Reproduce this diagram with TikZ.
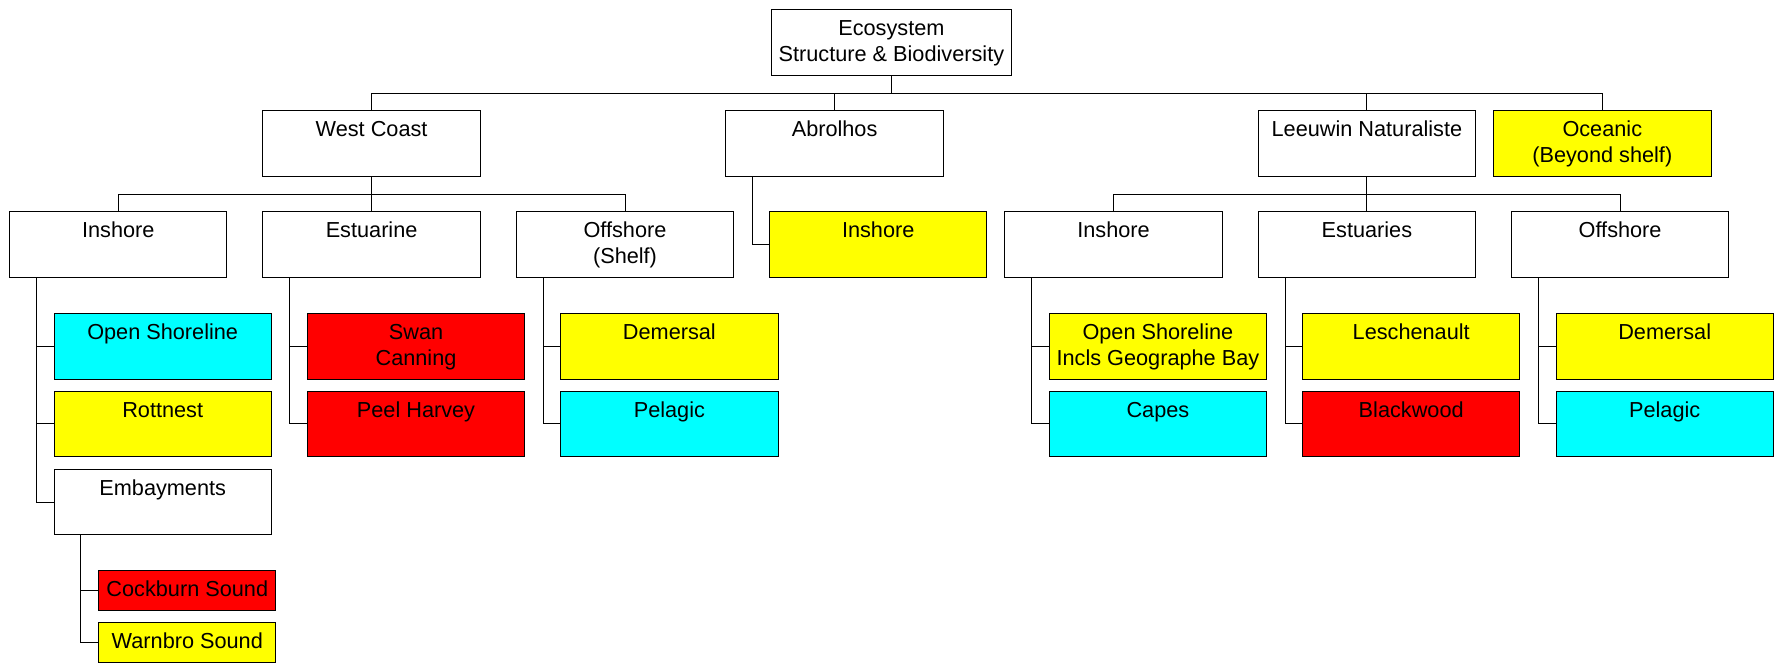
\documentclass[tikz,border=0pt]{standalone}
\usepackage{fontspec}
\setmainfont{Liberation Sans}
\definecolor{cyanfill}{RGB}{0,255,255}
\definecolor{yellowfill}{RGB}{255,255,0}
\definecolor{redfill}{RGB}{255,0,0}
\newcommand\tbx[3]{\parbox[b][#2][t]{#1}{\centering\rule{0pt}{26pt}#3\par}}
\newcommand\tb[1]{\tbx{217.4pt}{65.7pt}{#1}}
\begin{document}
\begin{tikzpicture}[x=1pt,y=-1pt,
  every node/.style={inner sep=0pt, outer sep=0pt, font=\fontsize{21.7}{25.7}\selectfont},
  box/.style={draw=black, line width=1pt, fill=white},
  cy/.style={box, fill=cyanfill},
  ye/.style={box, fill=yellowfill},
  rd/.style={box, fill=redfill},
  link/.style={draw=black, line width=1pt}]
\useasboundingbox (0,0) rectangle (1775,667);
% root
\node[box] (eco) at (891.4,42.5) {\tbx{240.8pt}{65.6pt}{Ecosystem\\Structure \& Biodiversity}};
% level 1
\node[box] (wc) at (371.6,143.5) {\tb{West Coast}};
\node[box] (ab) at (834.6,143.5) {\tb{Abrolhos}};
\node[box] (ln) at (1366.9,143.5) {\tb{Leeuwin Naturaliste}};
\node[ye]  (oc) at (1602.3,143.5) {\tb{Oceanic\\(Beyond shelf)}};
% level 2
\node[box] (wi) at (118.25,244.7) {\tb{Inshore}};
\node[box] (we) at (371.6,244.7) {\tb{Estuarine}};
\node[box] (wo) at (625.0,244.7) {\tb{Offshore\\(Shelf)}};
\node[ye]  (ai) at (878.2,244.7) {\tb{Inshore}};
\node[box] (li) at (1113.5,244.7) {\tb{Inshore}};
\node[box] (le) at (1366.9,244.7) {\tb{Estuaries}};
\node[box] (lo) at (1620.1,244.7) {\tb{Offshore}};
% level 3 west coast
\node[cy]  (wi1) at (162.7,346.2) {\tb{Open Shoreline}};
\node[ye]  (wi2) at (162.7,423.9) {\tb{Rottnest}};
\node[box] (wi3) at (162.7,502.0) {\tb{Embayments}};
\node[rd]  (we1) at (416.0,346.2) {\tb{Swan\\Canning}};
\node[rd]  (we2) at (416.0,423.9) {\tb{Peel Harvey}};
\node[ye]  (wo1) at (669.4,346.2) {\tb{Demersal}};
\node[cy]  (wo2) at (669.4,423.9) {\tb{Pelagic}};
% embayments
\node[rd]  (em1) at (187.3,590.5) {\tbx{177.2pt}{39.6pt}{Cockburn Sound}};
\node[ye]  (em2) at (187.3,642.7) {\tbx{177.2pt}{40pt}{Warnbro Sound}};
% level 3 leeuwin
\node[ye]  (li1) at (1157.9,346.2) {\tb{Open Shoreline\\Incls Geographe Bay}};
\node[cy]  (li2) at (1157.9,423.9) {\tb{Capes}};
\node[ye]  (le1) at (1411.2,346.2) {\tb{Leschenault}};
\node[rd]  (le2) at (1411.2,423.9) {\tb{Blackwood}};
\node[ye]  (lo1) at (1664.7,346.2) {\tb{Demersal}};
\node[cy]  (lo2) at (1664.7,423.9) {\tb{Pelagic}};
% buses
\coordinate (b1) at (0,93);
\coordinate (b2) at (0,194);
\draw[link] (eco.south) -- (eco.south |- b1);
\draw[link] (wc.north) -- (wc.north |- b1) -- (oc.north |- b1) -- (oc.north);
\draw[link] (ab.north) -- (ab.north |- b1);
\draw[link] (ln.north) -- (ln.north |- b1);
\draw[link] (wc.south) -- (wc.south |- b2);
\draw[link] (wi.north) -- (wi.north |- b2) -- (wo.north |- b2) -- (wo.north);
\draw[link] (we.north) -- (we.north |- b2);
\draw[link] (ln.south) -- (ln.south |- b2);
\draw[link] (li.north) -- (li.north |- b2) -- (lo.north |- b2) -- (lo.north);
\draw[link] (le.north) -- (le.north |- b2);
% side connectors
\draw[link] ([xshift=26.8pt]ab.south west) |- (ai.west);
\draw[link] ([xshift=26.8pt]wi.south west) |- (wi1.west);
\draw[link] ([xshift=26.8pt]wi.south west) |- (wi2.west);
\draw[link] ([xshift=26.8pt]wi.south west) |- (wi3.west);
\draw[link] ([xshift=26.8pt]we.south west) |- (we1.west);
\draw[link] ([xshift=26.8pt]we.south west) |- (we2.west);
\draw[link] ([xshift=26.8pt]wo.south west) |- (wo1.west);
\draw[link] ([xshift=26.8pt]wo.south west) |- (wo2.west);
\draw[link] ([xshift=26.7pt]wi3.south west) |- (em1.west);
\draw[link] ([xshift=26.7pt]wi3.south west) |- (em2.west);
\draw[link] ([xshift=26.8pt]li.south west) |- (li1.west);
\draw[link] ([xshift=26.8pt]li.south west) |- (li2.west);
\draw[link] ([xshift=26.8pt]le.south west) |- (le1.west);
\draw[link] ([xshift=26.8pt]le.south west) |- (le2.west);
\draw[link] ([xshift=26.8pt]lo.south west) |- (lo1.west);
\draw[link] ([xshift=26.8pt]lo.south west) |- (lo2.west);
\end{tikzpicture}
\end{document}
